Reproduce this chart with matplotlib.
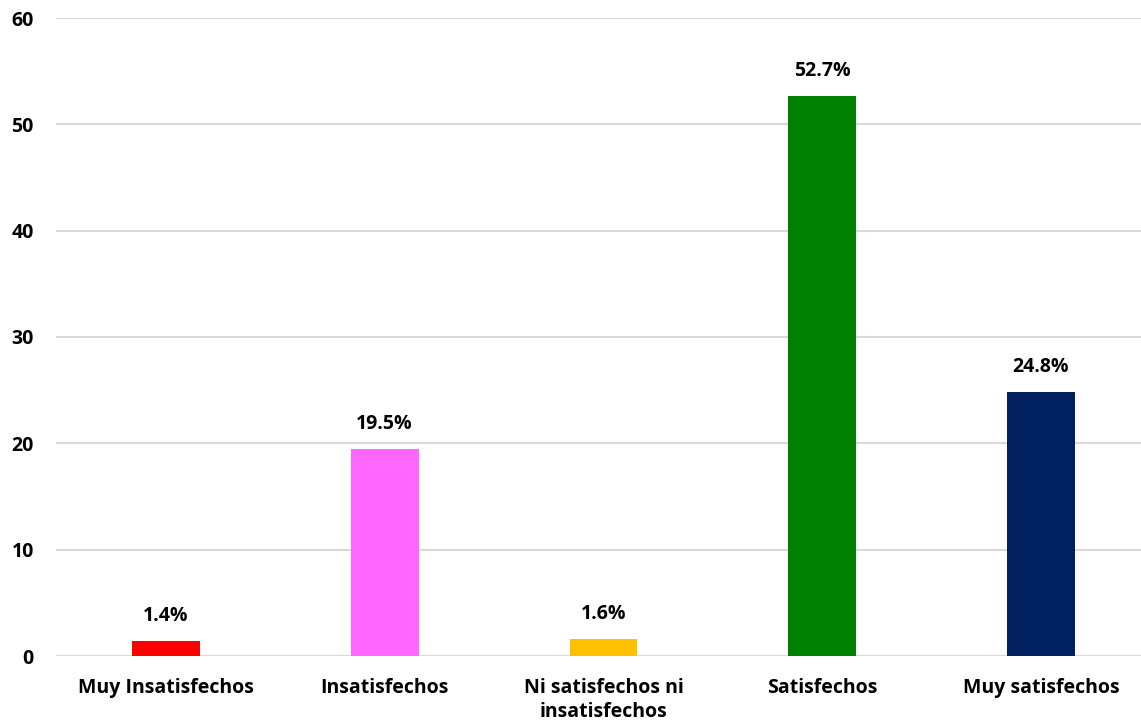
import matplotlib.pyplot as plt

categories = ["Muy Insatisfechos", "Insatisfechos", "Ni satisfechos ni\ninsatisfechos",
              "Satisfechos", "Muy satisfechos"]
values = [1.4, 19.5, 1.6, 52.7, 24.8]
colors = ["#FF0000", "#FF66FF", "#FFC000", "#008000", "#002060"]

plt.rcParams['font.family'] = ['Open Sans', 'DejaVu Sans']
plt.rcParams['font.weight'] = 'bold'

fig = plt.figure(figsize=(11.41, 7.25), dpi=100)
ax = fig.add_axes([56 / 1141, 1 - 656 / 725, 1 - 56 / 1141, (656 - 18) / 725])

x = list(range(len(categories)))
bars = ax.bar(x, values, width=0.31, color=colors, zorder=3)

for b, v in zip(bars, values):
    ax.text(b.get_x() + b.get_width() / 2, v + 1.4, f"{v}%",
            ha='center', va='bottom', fontsize=14, fontweight='bold')

ax.set_xlim(-0.502, 4.457)
ax.set_ylim(0, 60)
ax.set_yticks(range(0, 61, 10))
ax.set_xticks(x)
ax.set_xticklabels(categories, fontsize=14, fontweight='bold', linespacing=1.25)
ax.tick_params(axis='y', labelsize=14, length=0, pad=16)
ax.tick_params(axis='x', length=0, pad=16)
ax.grid(axis='y', color='#D9D9D9', linewidth=1.5, zorder=0)
for s in ['top', 'right', 'left', 'bottom']:
    ax.spines[s].set_visible(False)

fig.savefig("out.png", dpi=100)
